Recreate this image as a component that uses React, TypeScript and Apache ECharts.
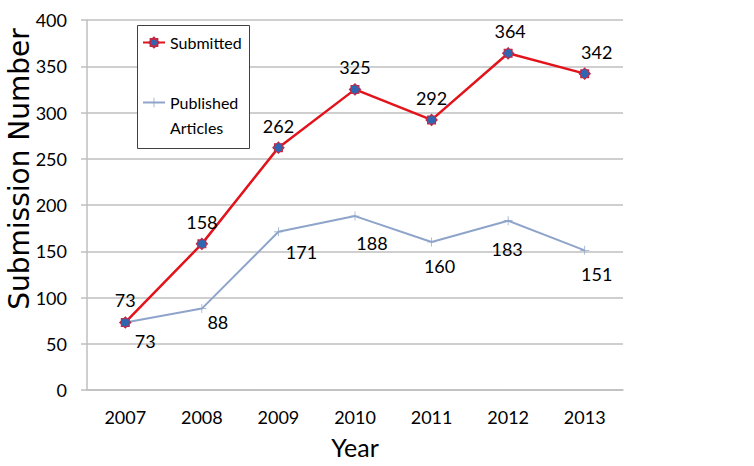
import React, { useEffect, useRef } from "react";
import * as echarts from "echarts";

const years = ["2007", "2008", "2009", "2010", "2011", "2012", "2013"];
const submitted = [73, 158, 262, 325, 292, 364, 342];
const published = [73, 88, 171, 188, 160, 183, 151];

// label nudges (pixels), kept apart from the data
const submittedLabelOffsets = [[0, 0], [0, 0], [0, 0], [0, 0], [0, 0], [2, 0], [12, 0]];
const publishedLabelOffsets = [[20, 0], [16, -5], [23, 2], [17, 8], [8, 5], [-1, 10], [12, 5]];

const FONT = "Lato";

const starPath =
  "path://M0,-10 L2.95,-7.11 L7.07,-7.07 L7.11,-2.95 L10,0 L7.11,2.95 L7.07,7.07 L2.95,7.11 L0,10 L-2.95,7.11 L-7.07,7.07 L-7.11,2.95 L-10,0 L-7.11,-2.95 L-7.07,-7.07 L-2.95,-7.11 Z";
const crossPath =
  "path://M-0.8,-10 L0.8,-10 L0.8,-0.8 L10,-0.8 L10,0.8 L0.8,0.8 L0.8,10 L-0.8,10 L-0.8,0.8 L-10,0.8 L-10,-0.8 L-0.8,-0.8 Z";

export default function App() {
  const ref = useRef<HTMLDivElement>(null);
  useEffect(() => {
    if (!ref.current) return;
    const chart = echarts.init(ref.current, undefined, { renderer: "svg" });
    chart.setOption({
      animation: false,
      backgroundColor: "#ffffff",
      textStyle: { fontFamily: FONT },
      grid: { left: 87, right: 131, top: 20, bottom: 76, containLabel: false, outerBoundsMode: "none" },
      graphic: [
        {
          type: "rect",
          shape: { x: 137.5, y: 25.5, width: 112, height: 123 },
          style: { fill: "#ffffff", stroke: "#404040", lineWidth: 1 },
          z: 5,
        },
      ],
      legend: {
        orient: "vertical",
        left: 142,
        top: 30,
        padding: 0,
        itemWidth: 22,
        itemHeight: 12,
        itemGap: 10,
        z: 10,
        textStyle: { fontFamily: FONT, fontSize: 16, color: "#000", lineHeight: 25 },
        formatter: (name: string) =>
          name === "Published Articles" ? "\u00a0\nPublished\nArticles" : name,
        data: ["Submitted", "Published Articles"],
      },
      xAxis: {
        type: "category",
        data: years,
        boundaryGap: true,
        name: "Year",
        nameLocation: "middle",
        nameGap: 44,
        nameTextStyle: { fontFamily: FONT, fontSize: 25, color: "#000" },
        axisLine: { lineStyle: { color: "#BFBFBF", width: 1.5 } },
        axisTick: { show: false },
        axisLabel: { margin: 18, fontSize: 18, color: "#000", fontFamily: FONT },
      },
      yAxis: {
        type: "value",
        min: 0,
        max: 400,
        interval: 50,
        name: "Submission Number",
        nameLocation: "middle",
        nameGap: 54,
        nameMoveOverlap: false,
        nameTextStyle: {
          fontFamily: "DejaVu Sans",
          fontSize: 28,
          color: "#000",
          padding: [0, 0, 0, 72],
        },
        axisLine: { show: true, lineStyle: { color: "#BFBFBF", width: 1.5 } },
        axisTick: { show: true, length: 6, lineStyle: { color: "#BFBFBF", width: 1.5 } },
        axisLabel: { margin: 20, fontSize: 18, color: "#000", fontFamily: FONT },
        splitLine: { lineStyle: { color: "#BFBFBF", width: 1.5 } },
      },
      series: [
        {
          name: "Published Articles",
          type: "line",
          data: published.map((v, i) => ({
            value: v,
            label: { offset: publishedLabelOffsets[i] },
          })),
          symbol: crossPath,
          symbolSize: 9,
          lineStyle: { color: "#8EA4CA", width: 2 },
          itemStyle: { color: "#8EA4CA" },
          label: {
            show: true,
            position: "bottom",
            fontSize: 18,
            color: "#000",
            fontFamily: FONT,
          },
          z: 2,
        },
        {
          name: "Submitted",
          type: "line",
          data: submitted.map((v, i) => ({
            value: v,
            label: { offset: submittedLabelOffsets[i] },
          })),
          symbol: starPath,
          symbolSize: 11,
          lineStyle: { color: "#E3131B", width: 2.5 },
          itemStyle: { color: "#2F66B2", borderColor: "#C02845", borderWidth: 1.2 },
          label: {
            show: true,
            position: "top",
            distance: 7,
            fontSize: 18,
            color: "#000",
            fontFamily: FONT,
          },
          z: 3,
        },
      ],
    });
    return () => chart.dispose();
  }, []);
  return (
    <div
      ref={ref}
      style={{ position: "fixed", left: 0, top: 0, width: 754, height: 466 }}
    />
  );
}
